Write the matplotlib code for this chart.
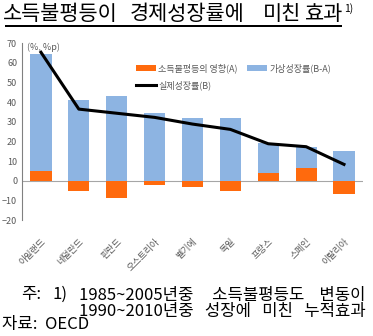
import matplotlib
matplotlib.use("Agg")
import matplotlib.pyplot as plt
from matplotlib.patches import Rectangle
import numpy as np

plt.rcParams['font.family'] = ['Noto Sans CJK KR', 'DejaVu Sans']

# Data
countries = ["아일랜드", "네덜란드", "핀란드", "오스트리아", "벨기에", "독일", "프랑스", "스페인", "이탈리아"]
effect_a = [5.0, -5.0, -8.6, -2.4, -3.4, -5.4, 3.9, 6.6, -6.7]          # 소득불평등의 영향(A)
virtual_ba = [59.6, 41.1, 43.1, 34.2, 32.0, 31.8, 15.1, 10.7, 15.2]     # 가상성장률(B-A)
actual_b = [65.3, 36.4, 34.3, 32.2, 28.8, 26.1, 18.8, 17.3, 8.3]        # 실제성장률(B)

orange = "#FF6A0D"
blue = "#8DB4E2"
gray = "#595959"

W, H = 373, 336
fig = plt.figure(figsize=(W / 100, H / 100), dpi=100)

# title underline, drawn in figure pixel units
fig.add_artist(Rectangle((5 / W, 1 - 26.5 / H), 337 / W, 1.3 / H, facecolor="black",
                         edgecolor="none", transform=fig.transFigure, zorder=5))

ax = fig.add_axes([0.059, 0.345, 0.914, 0.527])

x = np.arange(len(countries))
a = np.array(effect_a)
blue_bottom = np.where(a > 0, a, 0)

ax.bar(x, a, width=0.56, color=orange, label="소득불평등의 영향(A)", zorder=2)
ax.bar(x, virtual_ba, width=0.56, bottom=blue_bottom, color=blue, label="가상성장률(B-A)", zorder=2)
ax.plot(x, actual_b, color="black", lw=2.2, label="실제성장률(B)", zorder=3)
ax.axhline(0, color="#A6A6A6", lw=0.8, zorder=1)

ax.set_xlim(-0.5, 8.5)
ax.set_ylim(-20, 70)
ax.set_yticks(range(-20, 71, 10))
ax.set_xticks(x)
ax.set_xticklabels(countries, rotation=45, ha="right", rotation_mode="anchor")
ax.tick_params(axis="both", length=0, labelsize=6.5, colors=gray)
ax.tick_params(axis="x", pad=12)
for s in ["top", "right", "bottom"]:
    ax.spines[s].set_visible(False)
ax.spines["left"].set_color("#808080")
ax.spines["left"].set_linewidth(0.8)

ax.text(0.015, 1.0, "(%, %p)", transform=ax.transAxes, fontsize=6.5, color=gray, va="top")

handles, labels = ax.get_legend_handles_labels()
order = [1, 0, 2]
ax.legend([handles[i] for i in order], [labels[i] for i in order], ncol=2,
          loc="upper left", bbox_to_anchor=(0.31, 0.93), frameon=False,
          fontsize=6.5, labelcolor=gray, handlelength=2.2, handleheight=0.6,
          columnspacing=1.0, handletextpad=0.3, labelspacing=0.8)


def put(px, py, s, size, va="center", **kw):
    # place a text by its left edge in pixel coordinates
    fig.text(px / W, 1 - py / H, s, fontsize=size, va=va, ha="left", **kw)


# title, word by word to match the wide spacing
for px, s in [(3, "소득불평등이"), (130, "경제성장률에"), (263, "미친"), (305, "효과")]:
    put(px, 14, s, 15)
put(344, 3, "1)", 7.5, va="top")

# footnote
put(21, 294, "주:", 12)
put(52, 294, "1)", 12)
put(79, 303.5, "1985~2005년중     소득불평등도    변동이\n"
               "1990~2010년중   성장에   미친   누적효과", 12, linespacing=0.85)
put(2, 325, "자료:  OECD", 12)

fig.savefig("out.png", dpi=100)
